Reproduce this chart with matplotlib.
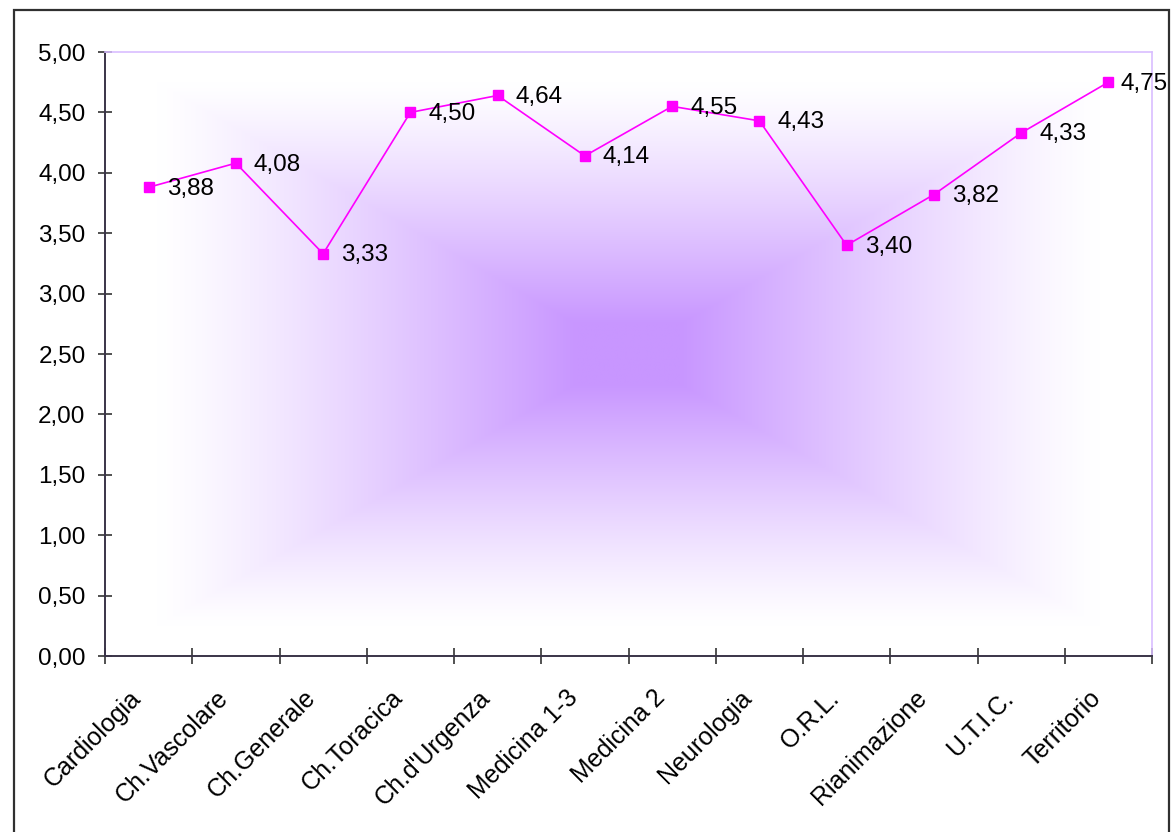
import numpy as np
import matplotlib
matplotlib.use("Agg")
import matplotlib.pyplot as plt
from matplotlib.patches import Rectangle
from matplotlib.ticker import FixedLocator, FuncFormatter

categories = ["Cardiologia", "Ch.Vascolare", "Ch.Generale", "Ch.Toracica", "Ch.d'Urgenza",
              "Medicina 1-3", "Medicina 2", "Neurologia", "O.R.L.", "Rianimazione",
              "U.T.I.C.", "Territorio"]
values = [3.88, 4.08, 3.33, 4.50, 4.64, 4.14, 4.55, 4.43, 3.40, 3.82, 4.33, 4.75]
yticks = [0.0, 0.5, 1.0, 1.5, 2.0, 2.5, 3.0, 3.5, 4.0, 4.5, 5.0]

plt.rcParams['font.family'] = ['Liberation Sans', 'DejaVu Sans']

W, H = 1171, 832
fig = plt.figure(figsize=(W / 100, H / 100), dpi=100)
fig.patch.set_facecolor('white')

# outer chart border
fig.patches.append(Rectangle((14 / W, -0.05), (1169 - 14) / W, (H - 10) / H + 0.05,
                             transform=fig.transFigure, fill=False,
                             edgecolor='#303030', linewidth=1.6))

left, right, top, bottom = 105, 1152, 52, 656
ax = fig.add_axes([left / W, (H - bottom) / H, (right - left) / W, (bottom - top) / H])

n = len(categories)
ax.set_xlim(-0.5, n - 0.5)
ax.set_ylim(0, 5)

# rectangular "from center" gradient background
gy, gx = np.mgrid[-1:1:500j, -1:1:800j]
t = np.maximum(np.abs(gx), np.abs(gy))
t0, t1 = 0.10, 0.90
f = np.clip((t1 - t) / (t1 - t0), 0, 1) ** 1.2
center = np.array([200, 150, 255]) / 255.0
white = np.ones(3)
img = white[None, None, :] * (1 - f[..., None]) + center[None, None, :] * f[..., None]
ax.imshow(img, extent=[-0.5, n - 0.5, 0, 5], aspect='auto', zorder=0, interpolation='bilinear')

x = np.arange(n)
ax.plot(x, values, color='#FF00FF', linewidth=1.2, marker='s', markersize=7.5,
        markerfacecolor='#FF00FF', markeredgecolor='#FF00FF', zorder=3)
for xi, v in zip(x, values):
    dx = 13 if xi < n - 1 else 8.5  # last label pushed inside the chart border
    ax.annotate(f"{v:.2f}".replace('.', ','), (xi, v), xytext=(dx, -1),
                textcoords='offset points', ha='left', va='center', fontsize=17.5,
                color='black', zorder=4, annotation_clip=False)

# spines
for s in ['top', 'right']:
    ax.spines[s].set_color('#D9BEFF')
    ax.spines[s].set_linewidth(1.2)
for s in ['left', 'bottom']:
    ax.spines[s].set_color('#3A3448')
    ax.spines[s].set_linewidth(1.4)

ax.yaxis.set_major_locator(FixedLocator(yticks))
ax.yaxis.set_major_formatter(FuncFormatter(lambda v, p: f"{v:.2f}".replace('.', ',')))
ax.tick_params(axis='y', direction='inout', length=10, width=1.1, pad=9,
               labelsize=17.5, colors='#222222', labelcolor='black')

ax.set_xticks(x)
ax.set_xticklabels([])
ax.tick_params(axis='x', which='major', length=0)
for xi, cat in zip(x, categories):
    ax.annotate(cat, xy=(xi, 0), xycoords=('data', 'axes fraction'), xytext=(-4.5, -31),
                textcoords='offset points', rotation=45, ha='right', va='baseline',
                rotation_mode='anchor', fontsize=18, color='black', annotation_clip=False)
ax.set_xticks(np.arange(n + 1) - 0.5, minor=True)
ax.tick_params(axis='x', which='minor', direction='inout', length=11, width=1.1,
               color='#222222')

fig.savefig('out.png', dpi=100, facecolor='white')
